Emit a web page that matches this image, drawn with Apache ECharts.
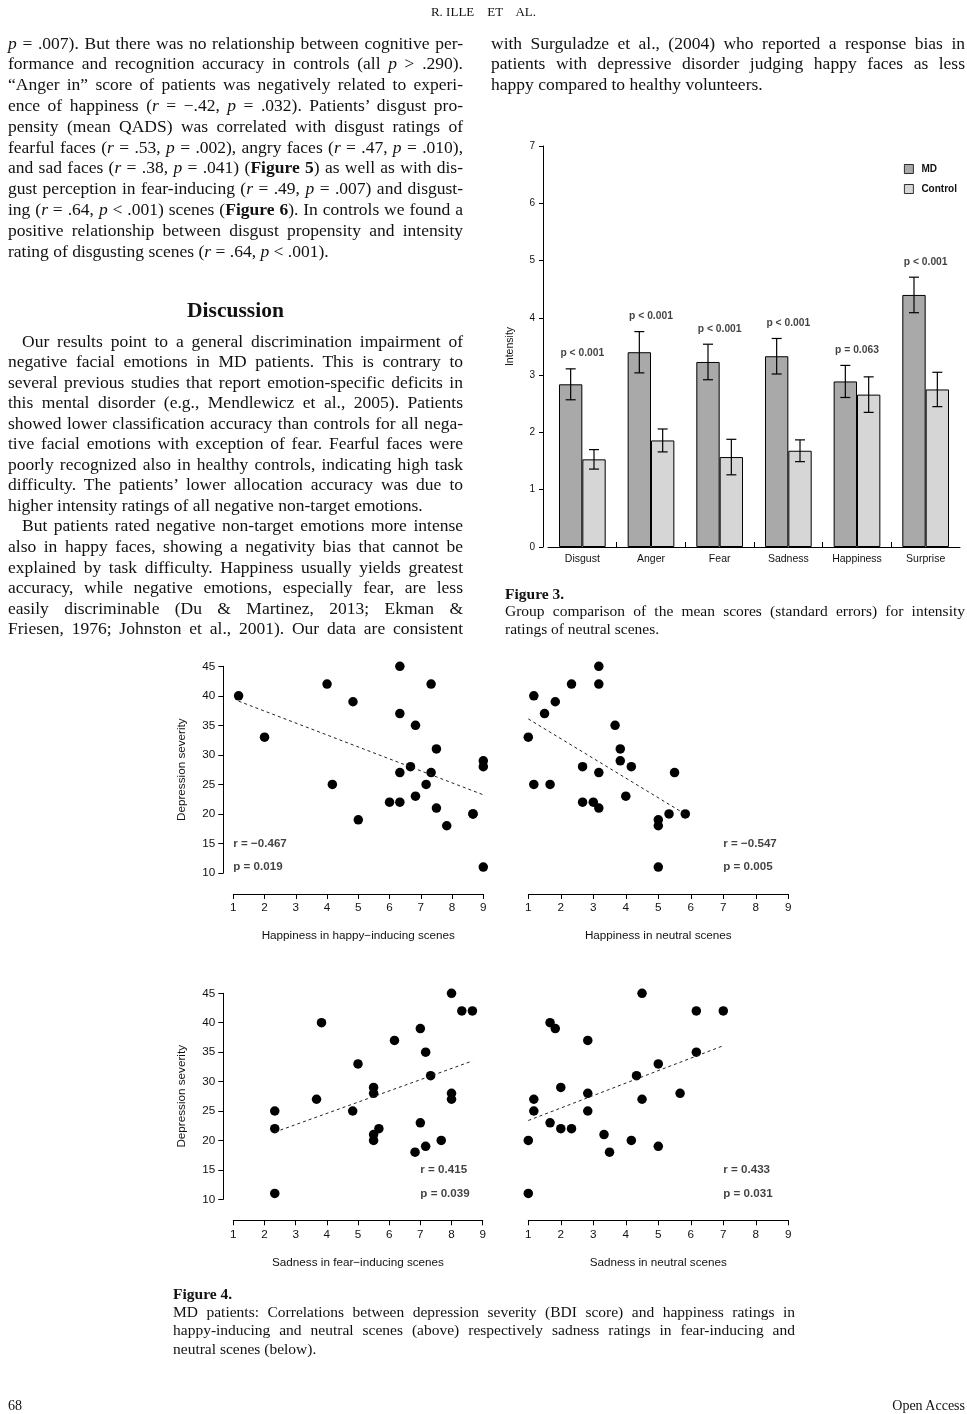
<!DOCTYPE html>
<html><head><meta charset="utf-8">
<script src="https://cdn.jsdelivr.net/npm/echarts@6/dist/echarts.min.js"></script>
<style>
html,body{margin:0;padding:0;background:#fff;}
#page{position:relative;width:967px;height:1414px;overflow:hidden;background:#fff;}
#chart{position:absolute;left:0;top:0;width:967px;height:1414px;}
.t{position:absolute;font-family:'Liberation Serif','Times New Roman',serif;color:#111;white-space:nowrap;z-index:2;}
.t span{white-space:nowrap;}
</style></head><body><div id="page"><div id="chart"></div></div>
<script>
// ---------------- DATA ----------------
const categories = ['Disgust','Anger','Fear','Sadness','Happiness','Surprise'];
const mdMean   = [2.84, 3.40, 3.23, 3.33, 2.89, 4.40];
const mdSE     = [0.27, 0.36, 0.31, 0.31, 0.28, 0.31];
const ctrlMean = [1.53, 1.86, 1.57, 1.68, 2.66, 2.75];
const ctrlSE   = [0.17, 0.20, 0.31, 0.19, 0.31, 0.30];
const pLabels  = ['p < 0.001','p < 0.001','p < 0.001','p < 0.001','p = 0.063','p < 0.001'];
const barTicks = [0,1,2,3,4,5,6,7];

const happyInducing = [[1.17,40],[2,33],[4,42],[4.17,25],[4.83,39],[5,19],[6,22],[6.33,45],[6.33,37],[6.33,27],[6.33,22],[6.67,28],[6.83,35],[6.83,23],[7.17,25],[7.33,42],[7.33,27],[7.5,31],[7.5,21],[7.83,18],[8.67,20],[8.67,20],[9,29],[9,28],[9,11]];
const happyNeutral = [[3.17,45],[2.33,42],[3.17,42],[1.17,40],[1.83,39],[1.5,37],[3.67,35],[1,33],[3.83,31],[3.83,29],[2.67,28],[4.17,28],[3.17,27],[5.5,27],[1.17,25],[1.67,25],[4,23],[2.67,22],[3,22],[3.17,21],[5.33,20],[5.83,20],[5,19],[5,18],[5,11]];
const sadFear = [[8,45],[8.33,42],[8.67,42],[3.83,40],[7,39],[6.17,37],[7.17,35],[5,33],[7.33,31],[5.5,29],[5.5,28],[8,28],[8,27],[3.67,27],[2.33,25],[4.83,25],[7,23],[2.33,22],[5.67,22],[5.5,21],[5.5,20],[7.67,20],[7.17,19],[6.83,18],[2.33,11]];
const sadNeutral = [[4.5,45],[6.17,42],[7,42],[1.67,40],[1.83,39],[2.83,37],[6.17,35],[5,33],[4.33,31],[2,29],[2.83,28],[5.67,28],[1.17,27],[4.5,27],[1.17,25],[2.83,25],[1.67,23],[2,22],[2.33,22],[3.33,21],[1,20],[4.17,20],[5,19],[3.5,18],[1,11]];

const panelXNames = ['Happiness in happy\u2212inducing scenes','Happiness in neutral scenes','Sadness in fear\u2212inducing scenes','Sadness in neutral scenes'];
const panelR = ['r = \u22120.467','r = \u22120.547','r = 0.415','r = 0.433'];
const panelP = ['p = 0.019','p = 0.005','p = 0.039','p = 0.031'];
const xTicks = [1,2,3,4,5,6,7,8,9];
const yTicks = [10,15,20,25,30,35,40,45];

// ---------------- TEXT ----------------
const I = s => '<i>'+s+'</i>';
const textBlocks = [
 {left:8,width:455,y0:43,step:20.8,size:17.5,lines:[
  [I('p')+' = .007). But there was no relationship between cognitive per-',1,0],
  ['formance and recognition accuracy in controls (all '+I('p')+' &gt; .290).',1,0],
  ['\u201CAnger in\u201D score of patients was negatively related to experi-',1,0],
  ['ence of happiness ('+I('r')+' = \u2212.42, '+I('p')+' = .032). Patients\u2019 disgust pro-',1,0],
  ['pensity (mean QADS) was correlated with disgust ratings of',1,0],
  ['fearful faces ('+I('r')+' = .53, '+I('p')+' = .002), angry faces ('+I('r')+' = .47, '+I('p')+' = .010),',1,0],
  ['and sad faces ('+I('r')+' = .38, '+I('p')+' = .041) (<b>Figure 5</b>) as well as with dis-',1,0],
  ['gust perception in fear-inducing ('+I('r')+' = .49, '+I('p')+' = .007) and disgust-',1,0],
  ['ing ('+I('r')+' = .64, '+I('p')+' &lt; .001) scenes (<b>Figure 6</b>). In controls we found a',1,0],
  ['positive relationship between disgust propensity and intensity',1,0],
  ['rating of disgusting scenes ('+I('r')+' = .64, '+I('p')+' &lt; .001).',0,0]]},
 {left:8,width:455,y0:310,step:20,size:21.5,center:1,lines:[['<b>Discussion</b>',0,0]]},
 {left:8,width:455,y0:341,step:20.55,size:17.5,lines:[
  ['Our results point to a general discrimination impairment of',1,14],
  ['negative facial emotions in MD patients. This is contrary to',1,0],
  ['several previous studies that report emotion-specific deficits in',1,0],
  ['this mental disorder (e.g., Mendlewicz et al., 2005). Patients',1,0],
  ['showed lower classification accuracy than controls for all nega-',1,0],
  ['tive facial emotions with exception of fear. Fearful faces were',1,0],
  ['poorly recognized also in healthy controls, indicating high task',1,0],
  ['difficulty. The patients\u2019 lower allocation accuracy was due to',1,0],
  ['higher intensity ratings of all negative non-target emotions.',0,0],
  ['But patients rated negative non-target emotions more intense',1,14],
  ['also in happy faces, showing a negativity bias that cannot be',1,0],
  ['explained by task difficulty. Happiness usually yields greatest',1,0],
  ['accuracy, while negative emotions, especially fear, are less',1,0],
  ['easily discriminable (Du &amp; Martinez, 2013; Ekman &amp;',1,0],
  ['Friesen, 1976; Johnston et al., 2001). Our data are consistent',1,0]]},
 {left:491,width:474,y0:43,step:20.8,size:17.5,lines:[
  ['with Surguladze et al., (2004) who reported a response bias in',1,0],
  ['patients with depressive disorder judging happy faces as less',1,0],
  ['happy compared to healthy volunteers.',0,0]]},
 {left:505,width:460,y0:593,step:17.5,size:15.5,lines:[
  ['<b>Figure 3.</b>',0,0],
  ['Group comparison of the mean scores (standard errors) for intensity',1,0],
  ['ratings of neutral scenes.',0,0]]},
 {left:173,width:622,y0:1293,step:18.4,size:15.5,lines:[
  ['<b>Figure 4.</b>',0,0],
  ['MD patients: Correlations between depression severity (BDI score) and happiness ratings in',1,0],
  ['happy-inducing and neutral scenes (above) respectively sadness ratings in fear-inducing and',1,0],
  ['neutral scenes (below).',0,0]]},
 {left:0,width:967,y0:12,step:16,size:13,center:1,lines:[['R. ILLE&nbsp;&nbsp;&nbsp; ET&nbsp;&nbsp;&nbsp; AL.',0,0]]},
 {left:8,width:200,y0:1405,step:16,size:14,lines:[['68',0,0]]},
 {left:765,width:200,y0:1405,step:16,size:14,right:1,lines:[['Open Access',0,0]]}
];
const page = document.getElementById('page');
textBlocks.forEach(b=>{
  b.lines.forEach((ln,k)=>{
    const lh = Math.round(b.size*1.2);
    const d = document.createElement('div');
    d.className='t';
    d.style.left = (b.left+ln[2])+'px';
    d.style.width = (b.width-ln[2])+'px';
    d.style.top = (b.y0 + k*b.step - lh/2)+'px';
    d.style.height = lh+'px';
    d.style.lineHeight = lh+'px';
    d.style.fontSize = b.size+'px';
    d.style.textAlign = b.center ? 'center' : (b.right ? 'right' : 'left');
    const s = document.createElement('span');
    s.innerHTML = ln[0];
    d.appendChild(s);
    page.appendChild(d);
    if (ln[1]) {
      const w = s.getBoundingClientRect().width;
      const n = (s.textContent.match(/ /g)||[]).length;
      if (n>0) s.style.wordSpacing = ((b.width-ln[2]-w)/n)+'px';
    }
  });
});

// ---------------- CHART ----------------
const FONT = "'Liberation Sans', Arial, sans-serif";
const TXT = '#111';
function fitLine(pts){
  const n=pts.length; let sx=0,sy=0,sxx=0,sxy=0;
  pts.forEach(([x,y])=>{sx+=x;sy+=y;sxx+=x*x;sxy+=x*y;});
  const b=(n*sxy-sx*sy)/(n*sxx-sx*sx), a=(sy-b*sx)/n;
  const xs=pts.map(p=>p[0]); const x0=Math.min(...xs), x1=Math.max(...xs);
  return [[x0,a+b*x0],[x1,a+b*x1]];
}
const panels = [happyInducing, happyNeutral, sadFear, sadNeutral];
const noteX = [1,7,7,7];
const grids = [
  {left:548, top:146, width:412, height:401},
  {left:233.3, top:666.3, width:250, height:206.7},
  {left:528.3, top:666.3, width:260, height:206.7},
  {left:233.3, top:993.3, width:249.4, height:206},
  {left:528.3, top:993.3, width:260, height:206}
];
const axLine = {show:true, onZero:false, lineStyle:{color:'#000', width:1}};
const xAxes = [{
  gridIndex:0, type:'category', data:categories, boundaryGap:true, position:'bottom',
  axisLine:axLine, axisTick:{show:false},
  axisLabel:{color:TXT, fontSize:10.5, fontFamily:FONT, margin:7, interval:0}
}];
const yAxes = [{
  gridIndex:0, type:'value', min:barTicks[0], max:barTicks[barTicks.length-1], interval:1, offset:5,
  axisLine:axLine, axisTick:{show:true, length:4, lineStyle:{color:'#000'}},
  axisLabel:{color:TXT, fontSize:10, fontFamily:FONT, margin:8}, splitLine:{show:false},
  name:'Intensity', nameLocation:'middle', nameGap:27, nameTextStyle:{color:TXT, fontSize:10.5, fontFamily:FONT}
}];
panels.forEach((p,k)=>{
  xAxes.push({gridIndex:k+1, type:'value', position:'bottom', min:xTicks[0], max:xTicks[xTicks.length-1], interval:1, offset:21,
    axisLine:axLine, axisTick:{show:true, length:5, lineStyle:{color:'#000'}},
    axisLabel:{color:TXT, fontSize:11.7, fontFamily:FONT, margin:8}, splitLine:{show:false},
    name:panelXNames[k], nameLocation:'middle', nameGap:36, nameTextStyle:{color:TXT, fontSize:11.7, fontFamily:FONT}});
  yAxes.push({gridIndex:k+1, type:'value', show:(k%2===0), min:yTicks[0], max:yTicks[yTicks.length-1], interval:5, offset:10,
    axisLine:axLine, axisTick:{show:true, length:5, lineStyle:{color:'#000'}},
    axisLabel:{color:TXT, fontSize:11.7, fontFamily:FONT, margin:8}, splitLine:{show:false},
    name:'Depression severity', nameLocation:'middle', nameGap:36, nameTextStyle:{color:TXT, fontSize:11.7, fontFamily:FONT}});
});
// helper axis on the bar grid: only the separator ticks between category groups
const sepTicks = categories.slice(1).map((c,i)=>i+1);
xAxes.push({gridIndex:0, type:'value', position:'bottom', min:0, max:categories.length,
  axisLine:{show:false}, axisLabel:{show:false}, splitLine:{show:false},
  axisTick:{show:true, inside:true, length:5, customValues:sepTicks, lineStyle:{color:'#000'}}});

const CAT_GAP = 0.32;
const series = [
  {name:'MD', type:'bar', xAxisIndex:0, yAxisIndex:0, data:mdMean, barGap:'0%', barCategoryGap:(CAT_GAP*100)+'%',
   itemStyle:{color:'#a9a9a9', borderColor:'#000', borderWidth:1}},
  {name:'Control', type:'bar', xAxisIndex:0, yAxisIndex:0, data:ctrlMean, barGap:'0%', barCategoryGap:(CAT_GAP*100)+'%',
   itemStyle:{color:'#d6d6d6', borderColor:'#000', borderWidth:1}},
  {type:'custom', xAxisIndex:0, yAxisIndex:0, z:5,
   data: categories.map((c,i)=>[i, mdMean[i], mdSE[i], 0]).concat(categories.map((c,i)=>[i, ctrlMean[i], ctrlSE[i], 1])),
   encode:{x:0, y:1},
   renderItem:function(params, api){
     const i=api.value(0), m=api.value(1), se=api.value(2), side=api.value(3);
     const c=api.coord([i,m]); const band=api.size([1,0])[0];
     const bw=band*(1-CAT_GAP)/2; const x=c[0]+(side===0?-bw/2:bw/2);
     const yt=api.coord([i,m+se])[1], yb=api.coord([i,m-se])[1]; const cap=5;
     const st={stroke:'#000', lineWidth:1.2};
     return {type:'group', children:[
       {type:'line', shape:{x1:x,y1:yt,x2:x,y2:yb}, style:st},
       {type:'line', shape:{x1:x-cap,y1:yt,x2:x+cap,y2:yt}, style:st},
       {type:'line', shape:{x1:x-cap,y1:yb,x2:x+cap,y2:yb}, style:st}]};
   }},
  {type:'scatter', xAxisIndex:0, yAxisIndex:0, symbolSize:0, silent:true,
   data: categories.map((c,i)=>[i, Math.max(mdMean[i]+mdSE[i], ctrlMean[i]+ctrlSE[i]) + 0.27]),
   label:{show:true, position:'inside', formatter:p=>pLabels[p.dataIndex], color:TXT, fontSize:10.3, fontWeight:'bold', fontFamily:FONT}}
];
panels.forEach((pts,k)=>{
  series.push({type:'scatter', xAxisIndex:k+1, yAxisIndex:k+1, data:pts, symbolSize:9.5, itemStyle:{color:'#000', opacity:1}});
  series.push({type:'line', xAxisIndex:k+1, yAxisIndex:k+1, data:fitLine(pts), symbol:'none',
    lineStyle:{color:'#222', width:1, type:[3,3]}});
  series.push({type:'scatter', xAxisIndex:k+1, yAxisIndex:k+1, symbolSize:0, silent:true,
    data:[[noteX[k], 15, panelR[k]], [noteX[k], 11, panelP[k]]],
    label:{show:true, position:'right', distance:0, formatter:p=>p.data[2], color:TXT, fontSize:11.6, fontWeight:'bold', fontFamily:FONT}});
});
const chart = echarts.init(document.getElementById('chart'), null, {renderer:'canvas'});
chart.setOption({
  animation:false, backgroundColor:'transparent',
  textStyle:{fontFamily:FONT},
  grid:grids, xAxis:xAxes, yAxis:yAxes, series:series,
  legend:{data:['MD','Control'], orient:'vertical', left:899, top:159, itemWidth:9, itemHeight:9, itemGap:10, icon:'rect',
    itemStyle:{borderWidth:0.8, borderColor:'#000'},
    textStyle:{color:TXT, fontSize:10, fontWeight:'bold', fontFamily:FONT, padding:[0,0,0,3]}}
});
</script></body></html>
